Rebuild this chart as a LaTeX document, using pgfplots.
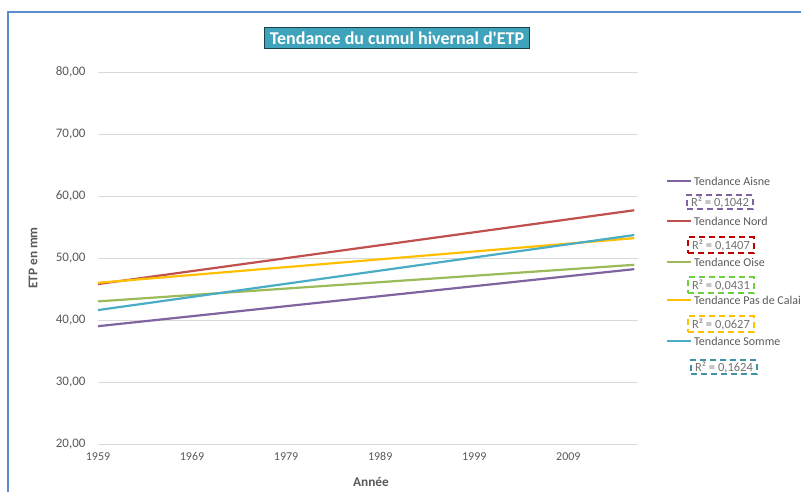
\documentclass[border=0pt]{standalone}
\usepackage{pgfplots}
\pgfplotsset{compat=1.18}
\usepackage{fontspec}
\setmainfont{Carlito}
\definecolor{caisne}{HTML}{8064A2}
\definecolor{cnord}{HTML}{C0504D}
\definecolor{coise}{HTML}{9BBB59}
\definecolor{cpdc}{HTML}{FFC000}
\definecolor{csomme}{HTML}{4BACC6}
\definecolor{txt}{HTML}{595959}
\definecolor{gridc}{HTML}{D9D9D9}
\definecolor{frame}{HTML}{5B8CCB}
\definecolor{titlebg}{HTML}{3FA3BC}
\begin{document}
\begin{tikzpicture}
\path[use as bounding box] (0pt,0pt) rectangle (801pt,492pt);
\draw[frame, line width=1.6pt] (8pt,0pt) -- (8pt,480pt) -- (801pt,480pt);
\begin{axis}[
  at={(98pt,48pt)}, anchor=south west,
  scale only axis, width=540pt, height=372pt,
  xmin=1959, xmax=2016.4, ymin=20, ymax=80,
  xtick={1959,1969,1979,1989,1999,2009},
  ytick={20,30,40,50,60,70,80},
  axis line style={draw=none},
  major tick length=0pt,
  ymajorgrids, grid style={gridc, line width=0.8pt},
  x tick label style={/pgf/number format/1000 sep={}},
  y tick label style={/pgf/number format/fixed, /pgf/number format/fixed zerofill, /pgf/number format/precision=2, /pgf/number format/use comma},
  /pgf/number format/assume math mode=true,
  xticklabel style={font=\fontsize{12}{12}\selectfont, text=txt, yshift=-5pt},
  yticklabel style={font=\fontsize{13}{13}\selectfont, text=txt, xshift=-9pt},
  clip=false,
]
\addplot[caisne, line width=2.2pt] coordinates {(1959,39.0) (2016,48.2)};
\addplot[cnord, line width=2.2pt] coordinates {(1959,45.8) (2016,57.7)};
\addplot[coise, line width=2.2pt] coordinates {(1959,43.0) (2016,48.9)};
\addplot[cpdc, line width=2.2pt] coordinates {(1959,46.0) (2016,53.2)};
\addplot[csomme, line width=2.2pt] coordinates {(1959,41.6) (2016,53.7)};
\end{axis}
\begin{scope}[x=1pt,y=1pt]
% title
\node[fill=titlebg, draw=black!60!titlebg, line width=1pt, text=white, font=\fontsize{18}{18}\selectfont\bfseries, inner xsep=5pt, inner ysep=4pt] at (397,454) {Tendance du cumul hivernal d\textquotesingle ETP};
% axis titles
\node[rotate=90, text=txt, font=\fontsize{13.3}{13.3}\selectfont\bfseries] at (33,234) {ETP en mm};
\node[text=txt, font=\fontsize{13.3}{13.3}\selectfont\bfseries] at (371,10) {Année};
% legend
\begin{scope}[font=\fontsize{12}{12}\selectfont]
\foreach \y/\c/\t in {311/caisne/Tendance Aisne, 271/cnord/Tendance Nord, 230/coise/Tendance Oise, 192/cpdc/Tendance Pas de Calai, 151/csomme/Tendance Somme}{
  \draw[\c, line width=2pt] (667,\y) -- (691,\y);
  \node[anchor=west, text=txt, inner sep=0pt] at (694,\y) {\t};
}
\end{scope}
\begin{scope}[font=\fontsize{12.5}{12.5}\selectfont, text=txt!85]
\tikzset{rbox/.style={dashed, dash pattern=on 6pt off 4pt, line width=2pt, minimum width=64pt, inner xsep=4pt, inner ysep=1pt}}
\node[rbox, draw=caisne, minimum height=14pt] at (720,290) {R² = 0,1042};
\node[rbox, draw=red!75!black, minimum height=16pt] at (721,247) {R² = 0,1407};
\node[rbox, draw=coise!70!green, minimum height=16pt] at (721,207) {R² = 0,0431};
\node[rbox, draw=cpdc, minimum height=16pt] at (721,168) {R² = 0,0627};
\node[rbox, draw=csomme!85!black, minimum height=14pt] at (724,125) {R² = 0,1624};
\end{scope}
\end{scope}
\end{tikzpicture}
\end{document}
